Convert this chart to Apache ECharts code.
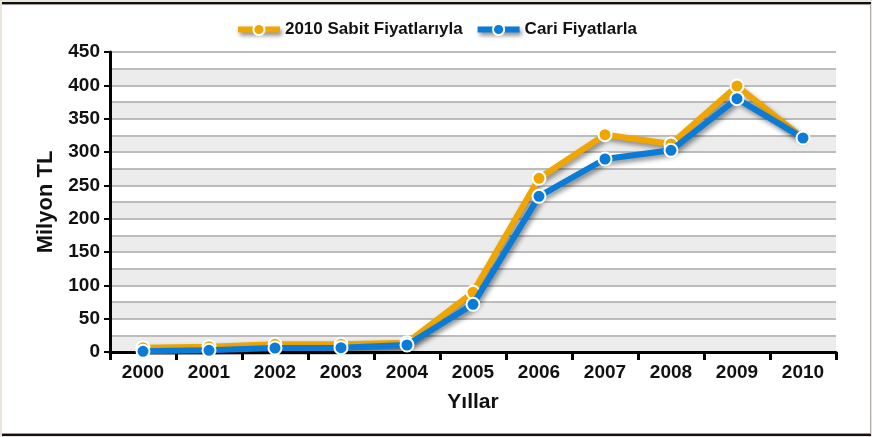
<!DOCTYPE html>
<html><head><meta charset="utf-8">
<script src="https://cdn.jsdelivr.net/npm/echarts@6/dist/echarts.min.js"></script>
<style>
html,body{margin:0;padding:0;background:#e9e5dc;}
#frame{position:absolute;left:2px;top:2px;width:869px;height:430px;background:#fff;border-top:2px solid #111;border-bottom:2px solid #111;box-shadow:inset 0 1px 0 #999, inset 0 -1px 0 #999;}
#rline{position:absolute;left:870px;top:4px;width:1px;height:430px;background:#aaa;}
#chart{position:absolute;left:0;top:0;width:872px;height:437px;}
</style></head>
<body>
<div id="frame"></div><div id="rline"></div>
<div id="chart"></div>
<script>
const years = ['2000','2001','2002','2003','2004','2005','2006','2007','2008','2009','2010'];
const sabit = [6.5, 8, 11.5, 11.5, 14, 89.5, 260.5, 326, 312, 399, 321];
const cari = [1, 2.5, 6, 6.5, 10.5, 71.5, 233.5, 289.5, 302.5, 380, 321];
const seriesNames = ['2010 Sabit Fiyatlarıyla', 'Cari Fiyatlarla'];
const colors = ['#f0a500', '#0a7bd6'];

const chart = echarts.init(document.getElementById('chart'));
const font = 'Liberation Sans, Arial, sans-serif';
function lineSeries(name, data, color, z) {
  return {
    name, type: 'line', data, z,
    symbol: 'circle', symbolSize: 13,
    itemStyle: { color, borderColor: '#fff', borderWidth: 2 },
    lineStyle: { color, width: 6, shadowColor: 'rgba(0,0,0,0.45)', shadowBlur: 5, shadowOffsetX: 2, shadowOffsetY: 3 },
    emphasis: { disabled: true }
  };
}
chart.setOption({
  animation: false,
  textStyle: { fontFamily: font },
  legend: {
    top: 16, left: 'center', itemWidth: 42, itemHeight: 14, itemGap: 12,
    textStyle: { fontFamily: font, fontWeight: 'bold', fontSize: 17, color: '#111' },
    lineStyle: { width: 6, shadowColor: 'rgba(0,0,0,0.45)', shadowBlur: 4, shadowOffsetX: 2, shadowOffsetY: 3 },
    data: seriesNames
  },
  grid: { left: 110, right: 36, top: 52, bottom: 85 },
  xAxis: {
    type: 'category', data: years, boundaryGap: true,
    name: 'Yıllar', nameLocation: 'middle', nameGap: 40,
    nameTextStyle: { fontFamily: font, fontWeight: 'bold', fontSize: 21, color: '#111' },
    axisLine: { lineStyle: { color: '#000', width: 3 } },
    axisTick: { show: true, length: 8, lineStyle: { color: '#000', width: 3 } },
    axisLabel: { fontFamily: font, fontWeight: 'bold', fontSize: 19, color: '#111', margin: 11 }
  },
  yAxis: [{
    type: 'value', min: 0, max: 450, interval: 50,
    name: 'Milyon TL', nameLocation: 'middle', nameGap: 52,
    nameTextStyle: { fontFamily: font, fontWeight: 'bold', fontSize: 22, color: '#111' },
    axisLine: { show: true, lineStyle: { color: '#000', width: 3 } },
    axisTick: { show: true, length: 6, lineStyle: { color: '#000', width: 2 } },
    axisLabel: { fontFamily: font, fontWeight: 'bold', fontSize: 19, color: '#111', margin: 10 },
    splitLine: { show: false }
  }, {
    type: 'value', min: 0, max: 450, interval: 25, position: 'left',
    axisLine: { show: false }, axisTick: { show: false }, axisLabel: { show: false },
    splitLine: { show: true, lineStyle: { color: '#bcbcbc', width: 2 } },
    splitArea: { show: true, areaStyle: { color: ['#ececec', '#ffffff'] } }
  }],
  series: [
    lineSeries(seriesNames[0], sabit, colors[0], 3),
    lineSeries(seriesNames[1], cari, colors[1], 4)
  ]
});
</script>
</body></html>
